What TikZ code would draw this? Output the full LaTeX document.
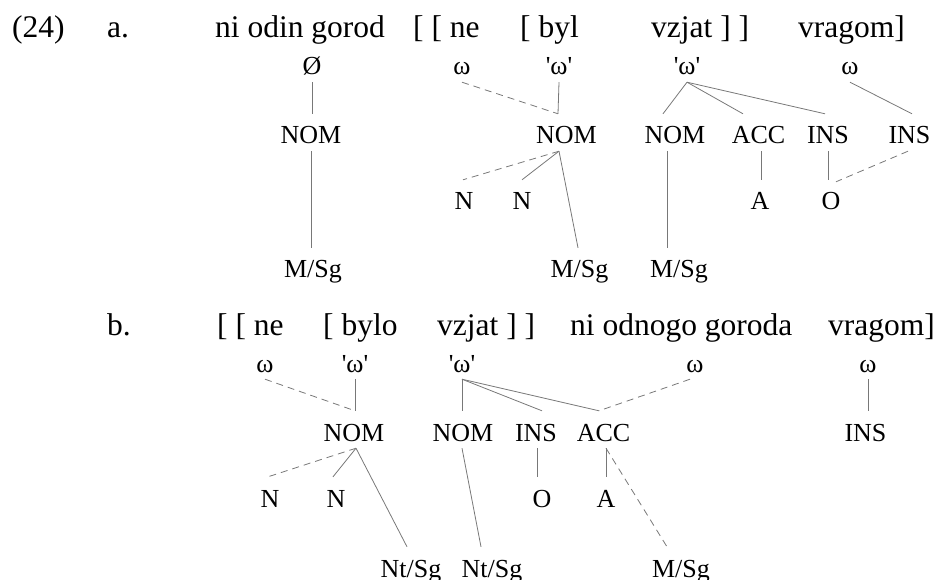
\documentclass[tikz,border=0pt]{standalone}
\usepackage{fontspec}
\setmainfont{Liberation Serif}[Ligatures=TeXOff]
\definecolor{linegray}{RGB}{120,120,120}
\begin{document}
\begin{tikzpicture}[x=1pt,y=-1pt,
  big/.style={anchor=base west,inner sep=0pt,font=\fontsize{31.5}{36}\selectfont},
  lab/.style={anchor=base,inner xsep=0pt,inner ysep=7pt,text height=23pt,text depth=0pt,font=\fontsize{26}{30}\selectfont},
  ln/.style={draw=linegray,line width=0.8pt},
  dl/.style={ln,dash pattern=on 7pt off 5pt}]
\useasboundingbox (0,0) rectangle (935,580);
% ---------- row a ----------
\node[big] (l24) at (12,37.5) {(24)};
\node[big] (laba) at (107,37.5) {a.};
\node[big] (wa1) at (215,37.5) {ni odin gorod};
\node[big] (wa2) at (413,37.5) {[ [ ne};
\node[big] (wa3) at (520,37.5) {[ byl};
\node[big] (wa4) at (651,37.5) {vzjat ] ]};
\node[big] (wa5) at (798,37.5) {vragom]};
\node[lab] (oa1) at (312,75) {Ø};
\node[lab] (oa2) at (462,75) {ω};
\node[lab] (oa3) at (559,75) {'ω'};
\node[lab] (oa4) at (687,75) {'ω'};
\node[lab] (oa5) at (850,75) {ω};
\node[lab] (na1) at (311,144) {NOM};
\node[lab] (na2) at (566.5,144) {NOM};
\node[lab] (na3) at (675,144) {NOM};
\node[lab] (na4) at (758.5,144) {ACC};
\node[lab] (na5) at (828,144) {INS};
\node[lab] (na6) at (909.5,144) {INS};
\node[lab] (ca1) at (464,210) {N};
\node[lab] (ca2) at (522,210) {N};
\node[lab] (ca3) at (760,210) {A};
\node[lab] (ca4) at (831,210) {O};
\node[lab] (ma1) at (313,278) {M/Sg};
\node[lab] (ma2) at (579.5,278) {M/Sg};
\node[lab] (ma3) at (679,278) {M/Sg};
\draw[ln] (oa1.south) -- ([xshift=1pt]na1.north);
\draw[ln] (na1.south) -- ([xshift=-2pt]ma1.north);
\draw[dl] (oa2.south) -- ([xshift=-8.5pt]na2.north);
\draw[ln] (oa3.south) -- ([xshift=-8.5pt]na2.north);
\draw[dl] ([xshift=-7.5pt]na2.south) -- ([xshift=-1pt]ca1.north);
\draw[ln] ([xshift=-7.5pt]na2.south) -- (ca2.north);
\draw[ln] ([xshift=-7.5pt]na2.south) -- ([xshift=-1.5pt]ma2.north);
\draw[ln] (oa4.south) -- ([xshift=-12pt]na3.north);
\draw[ln] (oa4.south) -- ([xshift=-15.5pt]na4.north);
\draw[ln] (oa4.south) -- ([xshift=-3pt]na5.north);
\draw[ln] (oa5.south) -- ([xshift=2.5pt]na6.north);
\draw[ln] ([xshift=-8pt]na3.south) -- ([xshift=-12pt]ma3.north);
\draw[ln] ([xshift=2.5pt]na4.south) -- ([xshift=1pt]ca3.north);
\draw[ln] (na5.south) -- ([xshift=-3pt]ca4.north);
\draw[dl] ([xshift=-1.5pt]na6.south) -- ([xshift=5pt,yshift=-2pt]ca4.north);
% ---------- row b ----------
\node[big] (labb) at (107,335) {b.};
\node[big] (wb1) at (217,335) {[ [ ne};
\node[big] (wb2) at (323,335) {[ bylo};
\node[big] (wb3) at (437,335) {vzjat ] ]};
\node[big] (wb4) at (570,335) {ni odnogo goroda};
\node[big] (wb5) at (828,335) {vragom]};
\node[lab] (ob1) at (265,372) {ω};
\node[lab] (ob2) at (355,372) {'ω'};
\node[lab] (ob3) at (462,372) {'ω'};
\node[lab] (ob4) at (695,372) {ω};
\node[lab] (ob5) at (868,372) {ω};
\node[lab] (nb1) at (354,441) {NOM};
\node[lab] (nb2) at (463,441) {NOM};
\node[lab] (nb3) at (536,441) {INS};
\node[lab] (nb4) at (603.5,441) {ACC};
\node[lab] (nb5) at (865.5,441) {INS};
\node[lab] (cb1) at (270,507) {N};
\node[lab] (cb2) at (336,507) {N};
\node[lab] (cb3) at (542,507) {O};
\node[lab] (cb4) at (606,507) {A};
\node[lab] (mb1) at (411,577) {Nt/Sg};
\node[lab] (mb2) at (492,577) {Nt/Sg};
\node[lab] (mb3) at (681,577) {M/Sg};
\draw[dl] (ob1.south) -- ([xshift=1pt]nb1.north);
\draw[ln] (ob2.south) -- ([xshift=1pt]nb1.north);
\draw[dl] ([xshift=2pt]nb1.south) -- ([xshift=-2pt]cb1.north);
\draw[ln] ([xshift=2pt]nb1.south) -- ([xshift=-3pt]cb2.north);
\draw[ln] ([xshift=2pt]nb1.south) -- ([xshift=-4pt]mb1.north);
\draw[ln] (ob3.south) -- ([xshift=-1pt]nb2.north);
\draw[ln] (ob3.south) -- ([xshift=6pt]nb3.north);
\draw[ln] (ob3.south) -- ([xshift=-4.5pt]nb4.north);
\draw[dl] ([xshift=-5pt]ob4.south) -- ([xshift=-4.5pt]nb4.north);
\draw[ln] (ob5.south) -- ([xshift=2.5pt]nb5.north);
\draw[ln] ([xshift=-1pt]nb2.south) -- ([xshift=-11pt]mb2.north);
\draw[ln] ([xshift=1pt]nb3.south) -- ([xshift=-5pt]cb3.north);
\draw[ln] ([xshift=2.5pt]nb4.south) -- (cb4.north);
\draw[dl] ([xshift=2.5pt]nb4.south) -- ([xshift=-14pt]mb3.north);
\end{tikzpicture}
\end{document}
